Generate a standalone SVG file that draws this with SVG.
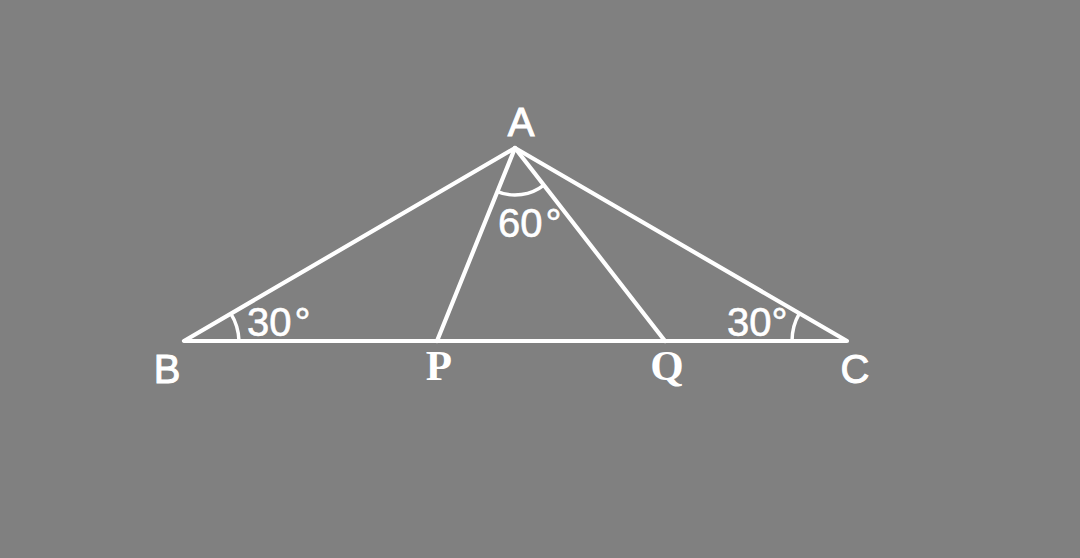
<svg xmlns="http://www.w3.org/2000/svg" width="1080" height="558" viewBox="0 0 1080 558">
<style>
.ln{stroke:#fff;stroke-width:4.2;fill:none;stroke-linecap:round;stroke-linejoin:round}
.arc{stroke:#fff;stroke-width:3.5;fill:none}
.lbl{font-family:"Liberation Sans",Arial,sans-serif;font-size:40px;fill:#fff;stroke:#fff;stroke-width:1;text-anchor:middle}
.sl{font-family:"Liberation Serif","Times New Roman",serif;font-weight:bold;font-size:43px;fill:#fff;text-anchor:middle}
.ang{font-family:"Liberation Sans",Arial,sans-serif;font-size:40px;fill:#fff;stroke:#fff;stroke-width:0.6}
</style>
<rect width="1080" height="558" fill="#808080"/>
<g id="connectors">
<polygon class="ln" points="515,148 184,341 847,341"/>
<line class="ln" x1="515" y1="148" x2="437" y2="341"/>
<line class="ln" x1="515" y1="148" x2="665" y2="341"/>
</g>
<g id="angleA">
<path class="arc" d="M497.4,191.6 A47,47 0 0 0 543.9,185.1"/>
<text class="ang" x="498" y="237">60<tspan dx="3">°</tspan></text>
</g>
<g id="angleB">
<path class="arc" d="M230.7,313.4 A55,55 0 0 1 239,341"/>
<text class="ang" x="247" y="336">30<tspan dx="3">°</tspan></text>
</g>
<g id="angleC">
<path class="arc" d="M799.4,313.4 A55,55 0 0 0 792,341"/>
<text class="ang" x="727" y="336">30<tspan dx="0">°</tspan></text>
</g>
<g id="A"><text class="lbl" x="521" y="136">A</text></g>
<g id="B"><text class="lbl" x="167" y="383">B</text></g>
<g id="C"><text class="lbl" x="855" y="383">C</text></g>
<g id="P"><text class="sl" x="439" y="380">P</text></g>
<g id="Q"><text class="sl" x="667" y="380">Q</text></g>
</svg>
